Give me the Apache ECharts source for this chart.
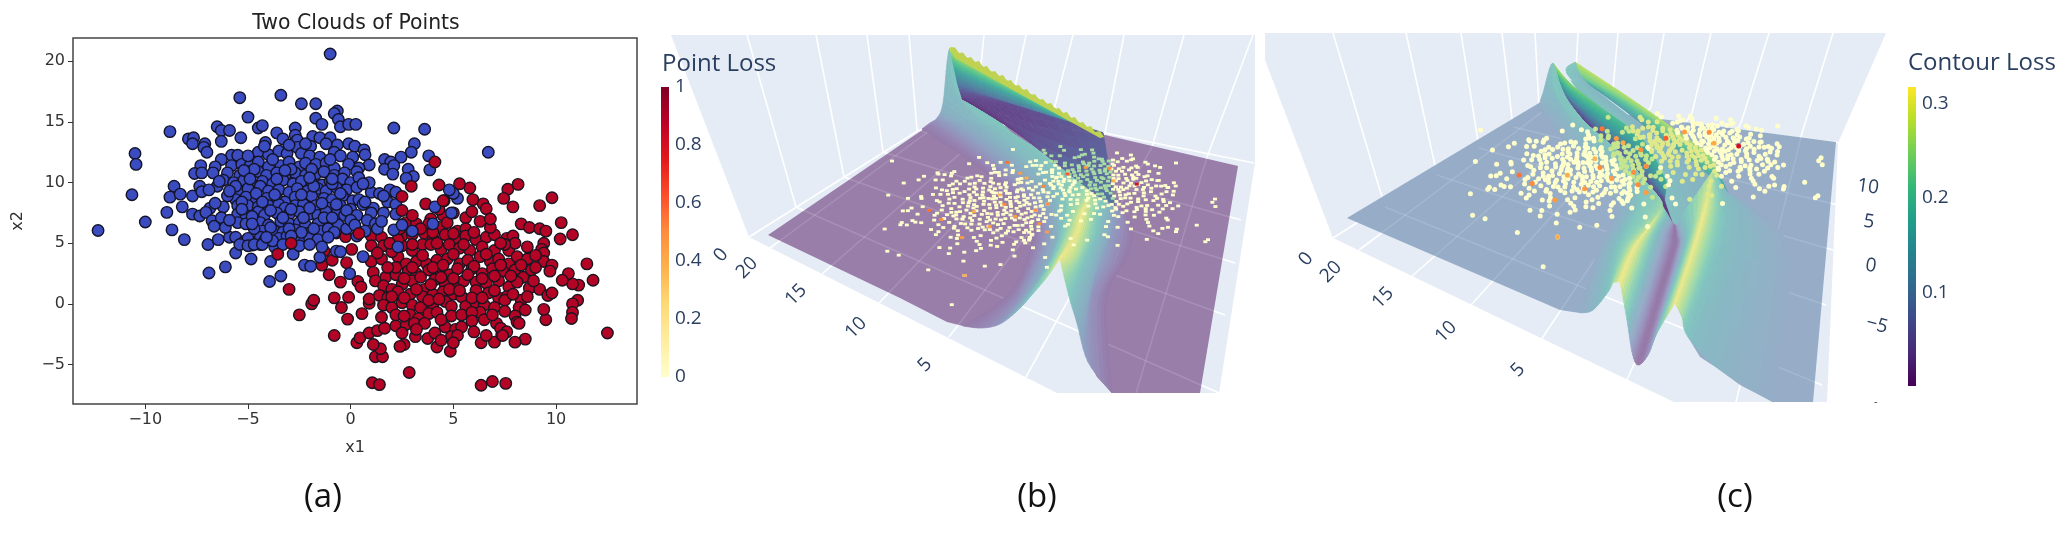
<!DOCTYPE html>
<html><head><meta charset="utf-8">
<style>html,body{margin:0;padding:0;background:#fff}#c{width:2066px;height:543px}</style>
<script src="https://cdn.jsdelivr.net/npm/echarts@6/dist/echarts.min.js"></script>
</head><body><div id="c"></div>
<script>
// ---------- data: panel (a) point clouds ----------
const blueCloud = [[-1,20.6],[-5.4,17],[-3.4,17.2],[-2.4,16.5],[-1.7,16.5],[-.65,15.9],[-.8,15.7],[-1.7,15.3],[-.6,15.2],[-5,15.4],[-1.4,14.8],[-.5,14.6],[-.1,14.8],[.25,14.8],[-6.5,14.6],[-6.3,14.3],[-5.9,14.3],[-8.8,14.2],[-4.5,14.5],[-4.3,14.7],[-2.7,14.5],[2.1,14.5],[3.6,14.4],[-3.6,14.1],[-7.9,13.6],[-7.65,13.7],[-5.35,13.7],[-6.3,13.4],[-3.3,13.6],[-2.7,13.9],[-2.6,13.5],[-1.85,13.8],[-1.5,13.7],[-1,13.7],[-4.15,13.3],[-7.7,13.2],[-7.1,13.2],[-7.15,12.9],[-7,12.5],[-.1,13.2],[-.65,13.1],[.2,13],[3.1,13.2],[2.95,12.5],[-1.95,13],[.65,12.7],[.7,12.3],[-10.5,12.4],[-10.45,11.5],[6.7,12.5],[3.8,12.2],[2.45,12.1],[1.65,11.9],[1.95,11.7],[1.65,11.1],[2.1,11.4],[.9,11.45],[2.8,11.1],[3.85,11.05],[2.05,10.7],[3.05,10.5],[2.7,10.35],[-5.8,12.25],[-5.5,12.25],[-6.3,11.9],[-6.6,11.3],[-7.3,11.4],[-7.6,10.75],[-7.25,10.8],[-6.7,10.8],[-8.6,9.7],[-8.8,8.8],[-8.3,9.05],[-10.65,9],[-7.7,8.9],[-7.35,9.7],[-7.25,9.25],[-6.5,9.7],[-8.2,8],[-8.95,7.55],[-7.7,7.4],[-10,6.75],[-12.3,6.05],[-8.7,6.1],[-8.1,5.3],[-7.35,7.25],[-6.85,7.9],[-7.05,7.55],[-6.75,6.85],[-6.65,6.4],[-6.95,4.9],[-6.45,5.3],[-5.9,5.5],[-5.6,5.5],[-5.6,4.2],[-4.85,3.7],[-6.1,3.05],[-6.9,2.55],[-3.9,3.5],[-3.95,1.85],[-3.4,2.3],[-2.25,3.2],[-1.95,3.1],[-1.5,3.85],[-.05,2.5],[-.7,4.35],[-.5,4.3],[-2.8,4.1],[-4.8,4.85],[-4.4,4.9],[-5.2,5.1],
[-4.5,12.5],[-4,12.3],[-3.5,12.6],[-3.1,12.4],[-2.6,12.9],[-2.4,12.4],[-2,12.2],[-1.5,12.1],[-.8,12.5],[-.5,12.2],[.1,12.1],
[-5.8,11.4],[-5.3,11.5],[-4.9,11.4],[-4.5,11.7],[-4,11.3],[-3.4,11.4],[-3,11.7],[-2.5,11.3],[-2.2,11.6],[-1.7,11.5],[-1.2,11.6],[-.8,11.2],[-.1,11.5],[.4,11.2],
[-6,10.8],[-5.4,10.6],[-5,10.9],[-4.5,10.9],[-4.1,10.6],[-3.6,10.8],[-3.2,10.5],[-2.7,10.8],[-2.2,10.6],[-1.7,10.7],[-1.3,10.9],[-.8,10.6],[-.3,10.8],[.3,10.9],
[-6.2,10.2],[-5.7,10],[-5.2,10.2],[-4.8,9.8],[-4.3,10.1],[-3.8,9.9],[-3.3,10.2],[-2.8,9.9],[-2.4,10.1],[-1.9,10],[-1.4,9.8],[-1,10.1],[-.4,10.3],[0,10],[.4,10.4],
[-5.4,9.3],[-5,9.5],[-4.4,9.7],[-4,9.3],[-3.5,9.4],[-3,9.2],[-2.6,9.5],[-2.1,9.3],[-1.6,9.5],[-1.2,9.3],[-.7,9.6],[-.2,9.4],[.3,9.6],[1,9.2],[1.4,9.1],[2,9.3],
[-5.6,8.6],[-5.1,8.8],[-4.6,8.5],[-4.1,8.7],[-3.6,8.7],[-3.2,8.4],[-2.7,8.8],[-2.2,8.6],[-1.9,8.9],[-1.3,8.7],[-.9,8.6],[-.4,8.9],[.1,8.5],[.4,8.6],
[-5.5,8.1],[-5,8.1],[-4.5,8],[-4,8.1],[-3.5,8.2],[-3.2,7.9],[-2.7,8.1],[-2.3,8.2],[-1.7,8.1],[-1.1,7.9],[-.5,8.1],[0,7.8],[1.1,7.9],[1.8,8.4],[2.2,8.2],
[-5.5,7.4],[-5.1,7.3],[-4.5,7.6],[-4.2,7.3],[-3.6,7.5],[-3,7.4],[-2.5,7.6],[-2,7.4],[-1.6,7.3],[-1.2,7.6],[-.7,7.4],[-.3,7.3],[.3,7.3],[1,7.5],[1.6,7.5],[2.2,7.4],
[-5.5,6.7],[-5.1,6.6],[-4.4,6.7],[-4,6.5],[-3.4,6.8],[-3,6.6],[-2.5,6.7],[-2.2,6.5],[-1.6,6.6],[-1,6.8],[-.6,6.5],[.8,6.9],[1.2,6.6],
[-4.3,6],[-3.7,6],[-3.3,5.9],[-2.7,6.1],[-2.1,5.8],[-1.5,6],[-1.1,6.2],[-.2,6.2],[.7,6],[1.3,6.2],[2.1,6.1],[3,6],
[-5,5.4],[-4.4,5.5],[-4.2,5.2],[-3.5,5.4],[-3.1,5.6],[-2.5,5.3],[-2,5.4],[-1.6,5.3],[-5.4,4.9],[-5,4.8],[-4.7,4.9],[-4.3,4.9],[-3.7,4.7],[-2.5,4.8],[.6,3.9],[2.3,4.7],
[4,6.6],[4.9,7.5],[4.1,8],[5.2,8.7],[5,9.1],[4.8,9.4],[.9,10],[1.9,9.4],[2.2,9.2],
[-4.7,11.1],[-3.8,11.9],[-2.9,11.1],[-1.9,11.1],[-1,11.9],[-5.6,9.7],[-4.6,9.1],[-3.7,9],[-2.4,9],[-1.8,9.7],[-.9,9.9],[-.5,9.1],[.6,9.9],[-6,8.9],[-5.3,8.4],[-4.3,8.4],[-3.9,7.7],[-2.9,7.8],[-2,7.9],[-1.4,8.3],[-.7,8.2],[-.2,7.7],[.6,8.2],[-6.2,8],[-4.8,7.2],[-3.3,7.1],[-2.3,7.1],[-1.3,7.1],[-.9,7.1],[0,6.9],[-4.7,6.2],[-3.9,6.3],[-3,6.2],[-2.4,5.9],[-1.8,6.2],[-.8,5.9],[.2,6.5],[-4.8,6.6],[-3.8,5.2],[-3.3,4.9],[-2,4.9],[-4.2,13],[-3,13.1],[-2.2,13.2],[-1.2,13.2],[-5,12.2],[-5.2,11],[-3.2,11],[-4.9,10.3],[-3.6,10.3],[-2,10.4],[-.9,10.3],[-5.3,7.8],[-1.1,5.5],[-1.4,4.7],[.3,5.6],[1.5,6.8],[2.5,6.5],[1.6,8.9],[.7,8.4],[-6.6,8.3],[-6.3,7.1],[-6.1,6.3],[-5.9,6.9],[-6.4,10.1],[-6.9,9.4],[-5.9,9.3],[-4.1,5.5],[-2.9,5.6]];
const redCloud = [[12.5,-2.4],[7.55,-6.55],[6.9,-6.4],[6.35,-6.7],[2.85,-5.65],[1.05,-6.5],[1.4,-6.65],[1.2,-4.35],[1.55,-4.35],[1.45,-3.7],[1.1,-3.35],[.3,-3.2],[.45,-2.8],[-.8,-2.6],[-2.5,-.9],[-1.9,0],[-1.8,.3],[-3,1.2],[-.8,.5],[-.45,-.3],[-.1,.55],[-.15,-1.25],[.55,-.8],[-1.05,2.4],[-.5,1.8],[.35,1.85],[.5,1.4],[-1.4,3.2],[-.9,3.6],[-.2,3.4],[-1.3,4.35],[-.7,5.85],[-.25,5.55],[.05,4.5],[.9,-2.4],[1.3,-2.2],[1.65,-2],[.9,.05],[.9,.4],[11.5,3.3],[11.8,1.95],[11.1,1.55],[10.8,1.65],[11.05,.3],[10.8,0],[10.8,-.7],[10.75,-1.2],[10.6,2.5],[10.3,1.95],[10.8,5.7],[10.2,5.35],[10.25,6.7],[9.8,8.75],[9.2,8.1],[8.15,9.85],[7.65,9.45],[7.45,8.7],[7.9,8],[5.8,9.55],[5.3,9.9],[4.3,9.8],[5.95,8.6],[6.45,8.25],[6.6,7.85],[3.65,8.25],[4.55,8.5],[9.5,-1.3],[9.4,-.45],[8.5,-2.9],[8,-3.15],[6.35,-3.2],[7,-3.15],[7.35,-2.55],[4.85,-3.9],[4.2,-3.55],[3.75,-2.85],[3.15,-2.7],[2.6,-3.35],[2.4,-3.5],
[3.9,7],[4.5,7.3],[5,7.5],[5.6,7.1],[5.9,7.6],[2.7,6.7],[3.2,6.6],[3.8,6.6],[4.3,6.3],[4.7,6.7],[5.2,6],[5.6,6.2],[6.3,6.8],[8.3,6.6],[8.7,6.3],[9.2,6.2],[9.5,6],
[1,5.6],[1.5,5.5],[2.5,5.6],[3,5.7],[3.6,5.8],[4,5.4],[4.6,5.7],[5.1,5.3],[5.6,5.6],[6.1,5.3],[6.6,5.5],[7,5.7],[7.6,5.4],[7.9,5.6],[9.4,5],
[1,4.8],[1.6,4.8],[2.5,4.8],[3,4.4],[3.5,4.9],[3.9,4.9],[4.4,4.5],[4.8,4.9],[5.3,4.6],[5.8,4.4],[6.4,4.7],[7,4.4],[7.7,4.4],[8,5],[9.3,4.5],[9.4,4.2],
[1,3.5],[1.5,3.7],[2.3,3.9],[2.7,3.3],[3.2,3.5],[3.7,3.3],[4.2,3.6],[4.7,3.7],[5.3,3.3],[5.7,3.6],[6.3,3.9],[6.8,3.5],[7.2,3.7],[7.7,3.3],[8.1,3.9],[8.6,3.7],[9.4,3.5],[9.8,3.2],
[1.1,2.6],[1.7,2.2],[2.2,2.4],[2.8,2.7],[3.2,2.5],[3.8,2.8],[4.3,2.6],[4.8,2.4],[5.2,2.9],[5.9,2.9],[6.4,2.5],[6.9,2.9],[7.4,2.7],[8,2.8],[8.4,2.2],[9.7,2.7],
[1.2,1.9],[1.6,1.5],[2,1.2],[2.5,1.6],[3,1.9],[3.6,1.2],[4.1,2],[4.6,1.6],[5.1,1.5],[5.5,1.9],[6.1,1.8],[6.6,1.7],[7.2,1.9],[7.7,1.4],[8.1,1.8],[8.7,1.3],[9.2,1.2],
[1.4,.7],[1.8,.5],[2.3,1],[2.9,.8],[3.5,.6],[4,.8],[4.5,1],[5,.8],[5.4,.6],[6.1,1.1],[6.7,.9],[7.2,.5],[7.6,.6],[8.3,.3],[9.6,.7],[9.8,.9],
[1.6,-.1],[2,-.3],[2.5,.1],[3,-.1],[3.4,-.3],[4,-.1],[4.6,.2],[4.9,-.2],[5.6,-.2],[6.1,.1],[6.5,-.1],[7,-.3],[7.5,.3],[8.2,-.3],[8.5,-.5],
[1.5,-1.1],[2.9,-.9],[3.3,-1.2],[3.8,-.8],[4.2,-.7],[4.9,-1],[6.3,-.7],[6.5,-1.3],[8,-1],[8.1,-1.5],[8.2,-1.6],
[2.2,-1.8],[2.7,-1.7],[2.5,-2.4],[3.1,-1.6],[4.6,-1.9],[5.1,-2.1],[5.4,-1.9],[6.6,-2.6],[7.1,-1.6],[7.3,-2],[7.6,-2.3],[7.4,-2.6],[4.9,-2.7],[5.2,-2.6],[5,-3.2],
[2,4.3],[2.2,3],[3,3],[3.5,4],[4,3],[4.5,3.2],[5,4.1],[5.5,4.9],[6,3.1],[6.6,4.1],[7.3,3.2],[7.5,4.9],[8.3,3.2],[8.8,2.8],[1.8,3],[2.6,2.1],[3.4,2.2],[3.9,1.6],[4.4,2.2],[5,2.1],[5.7,2.4],[6.4,2.1],[7,2.3],[7.8,2.3],[8.9,1.9],[2,.6],[2.6,.5],[3.2,1.2],[3.8,.3],[4.3,.4],[4.8,1.2],[5.3,1.1],[5.9,.5],[6.4,.5],[7,1.1],[7.9,.8],[8.6,.6],[2.2,-.9],[2.6,-1],[3.6,-1.6],[4.4,-1.3],[5.4,-.9],[5.9,-.7],[6.9,-.9],[7.5,-.6],[3,4.9],[4.2,5],[5,5.8],[6,5.9],[6.8,6.3],[4,5.9],[3.4,6.2],[7.3,5],[8.6,4.7],[9,3],[9,4],[2.3,5.3],[1.3,4.2],[1.9,5],[3.2,-2.1],[4.1,-2.4],[5.9,-1.4],[6,-2.3],[4.4,-3],[3,7.3],[4.3,7.8],[6.8,7],[2.4,6.2]];
const mixedCloud = [[4.1,11.7],[2.95,9.7],[2.5,8.85],[4.5,8.5],[-3.55,4.1],[-2.9,5],[2.5,7.7],[.4,5.8]];
const hardPoints = [[-3.55,4.1,.45],[-2.9,5,.5],[-.25,5.55,.5],[4.1,11.7,.55],[2.95,9.7,.45],[2.5,8.85,.4],[-10,6.75,.4],[-7,9,.45],[-5,8,.45],[-3,7,.45],[-4,10,.4],[-2,8.5,.5],[-1.5,6,.5],[-6,11.5,.5],[2,7,.5],[7,5,.45],[8,3,.5],[6,2,.4],[5,6,.6],[6.5,0,.8],[-1,9.5,.35],[-5.5,13,.55]];
const x1Ticks = [-10,-5,0,5,10];
const x2Ticks = [-5,0,5,10,15,20];
const pointLossTicks = [0,.2,.4,.6,.8,1];
const contourLossTicks = [.1,.2,.3];

// ---------- surfaces: ribs of [x, y, normalised colour] on the overlay axes ----------
const floorB = [[768,235],[900,298],[947,322],[963,326],[980,328],[997,325],[1013,313],[1027,300],[1043,280],[1060,258],[1067,287],[1077,323],[1087,357],[1097,377],[1112,393],[1200,393],[1238,166],[1105,135],[937,120]];
const flankB = [
 [[922,129,.02],[978,167,.02],[1018,205,.02],[1033,233,.02],[1012,290,.02],[963,326,.02]],
 [[930,123,.1],[982,160,.1],[1024,200,.1],[1040,233,.1],[1018,292,.1],[982,328,.1]],
 [[937,118,.22],[986,153,.22],[1032,195,.22],[1047,233,.22],[1024,292,.22],[1000,324,.22]],
 [[943,103,.42],[996,140,.42],[1048,188,.42],[1058,233,.42],[1045,270,.42],[1017,311,.42]],
 [[950,48,.55],[962,98,.55],[1040,155,.55],[1064,200,.55],[1056,250,.55],[1030,297,.55]],
 [[962,98,.55],[1040,155,.55],[1075,180,.62],[1073,215,.75],[1065,240,.75],[1047,277,.75]],
 [[962,98,.55],[1040,155,.55],[1090,191,.85],[1083,210,1],[1077,233,1],[1060,258,1]]];
const rightB = [
 [[1090,191,.85],[1083,210,1],[1077,233,1],[1068,248,1],[1060,258,1]],
 [[1096,196,.72],[1092,212,.75],[1088,233,.75],[1076,258,.8],[1063,272,.8]],
 [[1105,201,.55],[1100,215,.55],[1097,233,.55],[1087,258,.55],[1070,300,.55]],
 [[1112,205,.4],[1108,222,.4],[1105,236,.4],[1096,262,.4],[1077,323,.4]],
 [[1118,210,.22],[1115,228,.22],[1107,258,.22],[1090,300,.22],[1088,362,.22]],
 [[1128,218,.02],[1133,233,.02],[1127,258,.02],[1107,300,.02],[1112,393,.02]]];
const facetB = [
 [[950,48,.92],[962,55,.92],[1020,88,.92],[1100,135,.92]],
 [[952,58,.72],[964,66,.72],[1020,94,.72],[1100,136,.72]],
 [[955,72,.5],[966,77,.5],[1020,100,.5],[1102,137,.5]],
 [[958,85,.3],[968,88,.3],[1020,107,.3],[1103,137,.3]],
 [[962,98,.08],[975,100,.1],[1020,113,.1],[1104,138,.2]],
 [[962,98,.06],[1020,135,.06],[1090,190,.3],[1115,205,.3]]];
const teethB = [[950,47],[955,47.5],[959,53],[963,52.5],[967,58],[971,57],[975,62],[979,61],[983,67],[987,66],[991,72],[995,71],[999,76],[1003,75],[1007,81],[1011,80],[1015,86],[1019,85],[1023,90],[1027,89],[1031,95],[1035,94],[1039,100],[1043,99],[1047,104],[1051,103],[1055,109],[1059,108],[1063,113],[1067,112],[1071,118],[1075,117],[1079,123],[1083,122],[1087,127],[1091,126],[1095,132],[1100,131],[1104,137],[1100,138],[1020,94],[955,58]];
const floorC = [[1347,218],[1539,103],[1836,142],[1813,402],[1773,402],[1740,385],[1720,370],[1700,357],[1688,337],[1682,317],[1675,303],[1620,282],[1613,282],[1603,298],[1593,310],[1580,313],[1560,310]];
const undersideC = [[1570,80],[1590,85],[1728,193],[1675,225],[1600,120]];
const backRidgeC = [
 [[1575,62,.88],[1640,105,.88],[1713,157,.85]],
 [[1578,75,.7],[1640,112,.7],[1718,170,.7]],
 [[1587,83,.45],[1633,117,.45],[1728,193,.45]]];
const midFlankC = [
 [[1575,62,.6],[1570,78,.55],[1643,140,.5],[1667,183,.5],[1675,222,.5]],
 [[1575,62,.6],[1587,83,.45],[1640,125,.42],[1690,160,.4],[1728,193,.37]]];
const facetC = [
 [[1553,63,.88],[1570,83,.8],[1600,107,.7],[1643,140,.62],[1667,183,.6]],
 [[1556,75,.55],[1567,92,.5],[1595,118,.45],[1635,152,.42],[1665,195,.4]],
 [[1558,88,.25],[1565,98,.2],[1592,127,.15],[1628,165,.12],[1665,202,.12]],
 [[1562,102,.02],[1580,120,.02],[1600,138,.02],[1633,173,.02],[1673,225,.02]]];
const flankC = [
 [[1538,108,.3],[1583,167,.3],[1615,205,.3],[1597,253,.3],[1580,313,.3]],
 [[1543,93,.42],[1590,150,.42],[1630,195,.42],[1607,253,.42],[1593,310,.42]],
 [[1553,63,.55],[1562,102,.55],[1640,180,.55],[1617,250,.55],[1608,292,.55]],
 [[1562,102,.55],[1600,138,.55],[1652,195,.6],[1627,248,.75],[1613,283,.75]],
 [[1562,102,.55],[1633,173,.55],[1663,207,.75],[1636,245,1],[1620,282,1]]];
const valleyC = [
 [[1663,207,.75],[1650,225,1],[1636,245,1],[1620,282,1]],
 [[1668,215,.5],[1655,230,.65],[1648,250,.62],[1627,320,.55]],
 [[1672,222,.25],[1664,235,.3],[1660,252,.28],[1632,352,.2]],
 [[1675,225,0],[1675,237,0],[1672,255,0],[1638,365,0]],
 [[1677,225,.25],[1680,235,.25],[1679,255,.28],[1648,355,.15]],
 [[1684,212,.55],[1688,232,.55],[1684,255,.6],[1657,333,.5]],
 [[1712,172,.85],[1706,205,1],[1692,253,1],[1675,303,1]]];
const rightC = [
 [[1712,172,.85],[1706,205,1],[1692,253,1],[1675,303,1]],
 [[1716,175,.65],[1714,208,.75],[1703,255,.75],[1682,317,.75]],
 [[1722,185,.5],[1726,212,.52],[1718,255,.52],[1688,337,.52]],
 [[1727,192,.42],[1745,213,.42],[1745,260,.42],[1720,370,.4]],
 [[1730,195,.3],[1762,215,.3],[1790,260,.3],[1773,402,.3]]];

// ---------- scene layout (walls, grid lines, projection calibration) ----------
const layout = {
 wallB: [[671,35],[1255,35],[1255,163],[1219,393],[1057,393],[749,237]],
 wallC: [[1265,33],[1886,33],[1838,143],[1827,402],[1674,402],[1333,238],[1265,60]],
 gridB: [[[747,35],[796,207]],[[816,35],[844,177]],[[867,35],[883,152]],[[909,35],[917,130]],[[984,35],[978,95]],[[1026,35],[1010,110]],[[1073,35],[1050,125]],[[1124,35],[1105,133]],[[1184,35],[1152,147]],[[1253,35],[1207,157]],[[749,237],[919,130]],[[919,130],[1105,133]],[[1105,133],[1254,163]],
   [[770,248],[978,95]],[[822,274],[1010,110]],[[879,303],[1050,125]],[[949,337],[1105,133]],[[1026,377],[1152,147]],[[1136,393],[1207,157]],[[796,207],[1219,393]],[[844,177],[1225,315]],[[883,152],[1235,263]],[[917,130],[1241,220]]],
 gridC: [[[1333,33],[1385,207]],[[1406,33],[1437,175]],[[1461,33],[1479,148]],[[1502,33],[1513,127]],[[1535,33],[1539,107]],[[1578,33],[1575,87]],[[1618,33],[1612,100]],[[1664,33],[1651,107]],[[1711,33],[1692,113]],[[1769,33],[1742,120]],[[1833,33],[1802,133]],[[1333,238],[1539,107]],[[1539,107],[1841,143]],
   [[1359,250],[1575,87]],[[1411,277],[1612,100]],[[1471,305],[1651,107]],[[1541,340],[1692,113]],[[1627,380],[1742,120]],[[1736,402],[1802,133]],[[1385,207],[1822,385]],[[1437,175],[1826,305]],[[1479,148],[1833,250]],[[1513,127],[1838,205]]],
 calib: {
  src: [[-1,20.6],[-12.3,6],[1.2,-6.6],[12.5,-2.4]],
  b:   [[892,161],[952.5,305],[1207,241],[1176,163]],
  c:   [[1480.5,130],[1544,267],[1817,197],[1777.6,126]]},
 tintB: [[950,48],[1100,135],[1106,137],[1115,205],[1090,190],[962,98]],
 tintC1: [[1553,63],[1600,107],[1643,140],[1667,183],[1673,225],[1562,102]],
 tintC2: [[1575,62],[1713,157],[1728,193],[1690,205],[1643,140],[1570,78]]
};
const sceneTexts = [
 ['0',721,255,50,19],['20',747,268,45,19],['15',796,295,45,19],['10',856,328,45,19],['5',925,365,45,19],
 ['0',1306,259,50,19],['20',1331,272,45,19],['15',1383,298,45,19],['10',1446,332,45,19],['5',1518,370,45,19],
 ['10',1868,187,-8,19],['5',1869,222,-8,19],['0',1871,266,-8,19],['\u22125',1877,325,-15,19],['\u221210',1874,410,-15,19]];
const panelTitles = [['Point Loss',662,64,24],['Contour Loss',1908,63,24]];
const captions = [['(a)',323,498],['(b)',1037,498],['(c)',1735,498]];

// ---------- helpers ----------
const VIR = ['#440154','#482878','#3e4989','#31688e','#26828e','#1f9e89','#35b779','#6ece58','#b5de2b','#fde725'];
const YOR = ['#ffffcc','#ffeda0','#fed976','#feb24c','#fd8d3c','#fc4e2a','#e31a1c','#bd0026','#800026'];
const hex = h => [1,3,5].map(i=>parseInt(h.substr(i,2),16));
function ramp(list,t){t=Math.max(0,Math.min(1,t))*(list.length-1);const i=Math.min(list.length-2,Math.floor(t)),f=t-i;const a=hex(list[i]),b=hex(list[i+1]);return a.map((v,k)=>v+(b[k]-v)*f);}
const css = c => 'rgb('+c.map(v=>Math.round(v)).join(',')+')';
const WALL=[229,236,246];
const blend=(c,al)=>c.map((v,i)=>v*al+WALL[i]*(1-al));
function homography(src,dst){
 const A=[];for(let i=0;i<4;i++){const [x,y]=src[i],[u,v]=dst[i];
  A.push([x,y,1,0,0,0,-u*x,-u*y,u]);A.push([0,0,0,x,y,1,-v*x,-v*y,v]);}
 for(let i=0;i<8;i++){let p=i;for(let r=i+1;r<8;r++)if(Math.abs(A[r][i])>Math.abs(A[p][i]))p=r;[A[i],A[p]]=[A[p],A[i]];
  for(let r=0;r<8;r++)if(r!==i){const f=A[r][i]/A[i][i];for(let c=i;c<9;c++)A[r][c]-=f*A[i][c];}}
 const h=A.map((r,i)=>r[8]/r[i]);
 return (x,y)=>{const w=h[6]*x+h[7]*y+1;return [(h[0]*x+h[1]*y+h[2])/w,(h[3]*x+h[4]*y+h[5])/w];};
}
const inPoly=(p,poly)=>{let c=false;for(let i=0,j=poly.length-1;i<poly.length;j=i++){const a=poly[i],b=poly[j];if((a[1]>p[1])!==(b[1]>p[1])&&p[0]<(b[0]-a[0])*(p[1]-a[1])/(b[1]-a[1])+a[0])c=!c;}return c;};
// smooth curve through picture-read vertices, only used to draw the sheet's outline and shading
function spline(list,u){
 const n=list.length-1;const i=Math.min(n-1,Math.floor(u)),t=u-i;
 const p0=list[Math.max(0,i-1)],p1=list[i],p2=list[i+1],p3=list[Math.min(n,i+2)];
 return p1.map((_,k)=>.5*((2*p1[k])+(-p0[k]+p2[k])*t+(2*p0[k]-5*p1[k]+4*p2[k]-p3[k])*t*t+(-p0[k]+3*p1[k]-3*p2[k]+p3[k])*t*t*t));
}
function sheetEl(ribs,alpha,api){
 const kids=[];const R=ribs.length-1,K=ribs[0].length-1;const S=6,T=7;
 const row=[];
 for(let j=0;j<=K*T;j++){const sampled=ribs.map(r=>spline(r,j/T));const col=[];
  for(let i=0;i<=R*S;i++)col.push(spline(sampled,i/S));row.push(col);}
 for(let j=0;j<K*T;j++)for(let i=0;i<R*S;i++){
  const c=[row[j][i],row[j+1][i],row[j+1][i+1],row[j][i+1]];
  const v=(c[0][2]+c[1][2]+c[2][2]+c[3][2])/4;
  const al=typeof alpha==='function'?alpha(v):alpha;
  const col=css(blend(ramp(VIR,v),al));
  kids.push({type:'polygon',shape:{points:c.map(p=>api.coord([p[0],p[1]]))},style:{fill:col,stroke:col,lineWidth:.7},silent:true});
 }
 return {type:'group',children:kids};
}
function scene(items){
 return {type:'custom',coordinateSystem:'cartesian2d',xAxisIndex:1,yAxisIndex:1,silent:true,animation:false,clip:false,
  data:items.map((_,i)=>[i]),encode:{x:0,y:0},
  renderItem:(p,api)=>items[p.dataIndex](api)};
}
const polyItem=(pts,fill)=>api=>({type:'polygon',shape:{points:pts.map(q=>api.coord(q))},style:{fill},silent:true});
const linesItem=(lines,stroke,w)=>api=>({type:'group',children:lines.map(l=>({type:'line',shape:{x1:api.coord(l[0])[0],y1:api.coord(l[0])[1],x2:api.coord(l[1])[0],y2:api.coord(l[1])[1]},style:{stroke,lineWidth:w},silent:true}))});
const sheetItem=(ribs,al)=>api=>sheetEl(ribs,al,api);
const textItem=(t,x,y,rot,size,extra)=>api=>{const c=api.coord([x,y]);return {type:'text',x:c[0],y:c[1],rotation:rot*Math.PI/180,silent:true,style:Object.assign({text:t,font:size+'px "Open Sans"',fill:'#2a3f5f',textAlign:'center',textVerticalAlign:'middle'},extra||{})};};

const allDots=[...blueCloud,...redCloud].map(p=>[p[0],p[1],0]).concat(hardPoints);
function dotsSeries(proj,shape,tints){
 return {type:'custom',coordinateSystem:'cartesian2d',xAxisIndex:1,yAxisIndex:1,silent:true,animation:false,clip:false,
  data:allDots.map((_,i)=>[i]),encode:{x:0,y:0},
  renderItem:(par,api)=>{const d=allDots[par.dataIndex];const s=proj(d[0],d[1]);const c=api.coord(s);
   let fill=css(ramp(YOR,d[2]));
   for(const t of tints)if(inPoly(s,t.poly)&&d[2]===0){fill=t.color;break;}
   return shape==='rect'?{type:'rect',shape:{x:c[0]-2,y:c[1]-1.4,width:4,height:2.8},style:{fill},silent:true}
    :{type:'circle',shape:{cx:c[0],cy:c[1],r:2.5},style:{fill},silent:true};}};
}
const projB=homography(layout.calib.src,layout.calib.b), projC=homography(layout.calib.src,layout.calib.c);
const alphaC=v=>v<=.3?.5-.05*(v/.3):(v<.5?.45+(v-.3)*.25:.5);
const sceneBSeries=scene([
 polyItem(layout.wallB,'#e5ecf6'),
 linesItem(layout.gridB,'#ffffff',1.6),
 polyItem(floorB,css(blend(ramp(VIR,0),.47))),
 linesItem(layout.gridB.slice(13),'rgba(255,255,255,.14)',1.4),
 sheetItem(flankB,.5),sheetItem(rightB,.5),sheetItem(facetB,.82),
 polyItem(teethB,'#bfd252')]);
const sceneCSeries=scene([
 polyItem(layout.wallC,'#e5ecf6'),
 linesItem(layout.gridC,'#ffffff',1.6),
 polyItem(floorC,css(blend(ramp(VIR,.3),.45))),
 linesItem(layout.gridC.slice(13),'rgba(255,255,255,.14)',1.4),
 polyItem(undersideC,css(blend(ramp(VIR,.5),.5))),
 sheetItem(backRidgeC,.75),sheetItem(midFlankC,.5),sheetItem(facetC,.85),
 sheetItem(flankC,alphaC),sheetItem(valleyC,alphaC),sheetItem(rightC,alphaC)]);
const textSeries=scene([
 ...sceneTexts.map(t=>textItem(t[0],t[1],t[2],t[3],t[4])),
 polyItem([[1855,403],[1900,403],[1900,425],[1855,425]],'#ffffff'),
 ...panelTitles.map(t=>textItem(t[0],t[1],t[2],0,t[3],{textAlign:'left'})),
 ...captions.map(t=>textItem(t[0],t[1],t[2],0,33,{fill:'#111'}))]);

function colorbarAxisLabel(){return {color:'#2a3f5f',fontFamily:'Open Sans',fontSize:19,margin:6};}
const minusFmt=v=>String(v).replace('-','\u2212');
const option={
 animation:false,backgroundColor:'#fff',
 title:{text:'Two Clouds of Points',left:351,top:9,textAlign:'center',textStyle:{fontFamily:'DejaVu Sans',fontWeight:'normal',fontSize:20.4,color:'#222'}},
 grid:[
  {left:73,top:38,width:564,height:366,show:true,borderColor:'#444',borderWidth:1.5,backgroundColor:'#fff'},
  {left:0,top:0,width:2066,height:543},
  {left:661,top:87,width:8,height:290},
  {left:1908,top:87,width:8,height:299}],
 xAxis:[
  {gridIndex:0,type:'value',min:-13.52,max:13.94,name:'x1',nameLocation:'middle',nameGap:36,nameTextStyle:{fontFamily:'DejaVu Sans',fontSize:16,color:'#333'},splitLine:{show:false},axisLine:{show:false,onZero:false},
   axisTick:{show:true,length:5,lineStyle:{color:'#333'},customValues:x1Ticks},axisLabel:{customValues:x1Ticks,formatter:minusFmt,fontFamily:'DejaVu Sans',fontSize:16,color:'#333',margin:8}},
  {gridIndex:1,type:'value',min:0,max:2066,show:false},
  {gridIndex:2,type:'category',data:['loss'],show:false},
  {gridIndex:3,type:'category',data:['loss'],show:false}],
 yAxis:[
  {gridIndex:0,type:'value',min:-8.25,max:21.92,name:'x2',nameLocation:'middle',nameGap:47,nameTextStyle:{fontFamily:'DejaVu Sans',fontSize:16,color:'#333'},splitLine:{show:false},axisLine:{show:false,onZero:false},
   axisTick:{show:true,length:5,lineStyle:{color:'#333'},customValues:x2Ticks},axisLabel:{customValues:x2Ticks,formatter:minusFmt,fontFamily:'DejaVu Sans',fontSize:16,color:'#333',margin:8}},
  {gridIndex:1,type:'value',min:0,max:543,inverse:true,show:false},
  {gridIndex:2,type:'value',min:0,max:1,axisLine:{show:false},axisTick:{show:false},splitLine:{show:false},position:'right',
   axisLabel:Object.assign(colorbarAxisLabel(),{customValues:pointLossTicks,formatter:v=>String(v)})},
  {gridIndex:3,type:'value',min:.002,max:.317,axisLine:{show:false},axisTick:{show:false},splitLine:{show:false},position:'right',
   axisLabel:Object.assign(colorbarAxisLabel(),{customValues:contourLossTicks,formatter:v=>String(v)})}],
 series:[
  sceneBSeries,
  dotsSeries(projB,'rect',[{poly:layout.tintB,color:'#a9dca4'}]),
  sceneCSeries,
  dotsSeries(projC,'circle',[{poly:layout.tintC1,color:'#c5e58e'},{poly:layout.tintC2,color:'#dfe98c'}]),
  textSeries,
  {type:'bar',xAxisIndex:2,yAxisIndex:2,data:[1],barWidth:'100%',silent:true,
   itemStyle:{color:new echarts.graphic.LinearGradient(0,1,0,0,YOR.map((c,i)=>({offset:i/(YOR.length-1),color:c})))}},
  {type:'bar',xAxisIndex:3,yAxisIndex:3,data:[.317],barWidth:'100%',silent:true,
   itemStyle:{color:new echarts.graphic.LinearGradient(0,1,0,0,VIR.map((c,i)=>({offset:i/(VIR.length-1),color:c})))}},
  {type:'scatter',xAxisIndex:0,yAxisIndex:0,data:redCloud,symbolSize:11.5,silent:true,itemStyle:{color:'#b40426',borderColor:'#1c1420',borderWidth:1.4,opacity:1}},
  {type:'scatter',xAxisIndex:0,yAxisIndex:0,data:blueCloud,symbolSize:11.5,silent:true,itemStyle:{color:'#3b4cc0',borderColor:'#14142a',borderWidth:1.4,opacity:1}},
  {type:'scatter',xAxisIndex:0,yAxisIndex:0,data:mixedCloud,symbolSize:11.5,silent:true,itemStyle:{color:'#b40426',borderColor:'#1c1420',borderWidth:1.4,opacity:1}}
 ]};
const chart=echarts.init(document.getElementById('c'),null,{renderer:'canvas',width:2066,height:543});
chart.setOption(option);
</script></body></html>
